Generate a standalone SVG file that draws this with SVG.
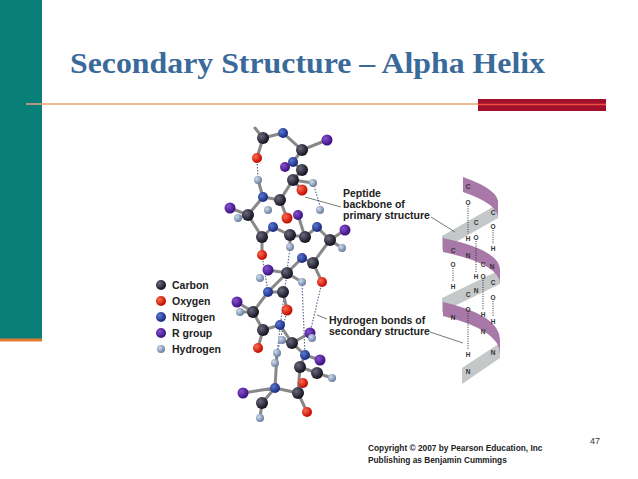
<svg xmlns="http://www.w3.org/2000/svg" width="638" height="479" viewBox="0 0 638 479">
<defs>
<radialGradient id="gC" cx="35%" cy="35%" r="65%"><stop offset="0" stop-color="#6a6a80"/><stop offset="1" stop-color="#15131f"/></radialGradient>
<radialGradient id="gO" cx="35%" cy="35%" r="65%"><stop offset="0" stop-color="#ff6a50"/><stop offset="1" stop-color="#c00a00"/></radialGradient>
<radialGradient id="gN" cx="35%" cy="35%" r="65%"><stop offset="0" stop-color="#5a78d0"/><stop offset="1" stop-color="#1a2a80"/></radialGradient>
<radialGradient id="gR" cx="35%" cy="35%" r="65%"><stop offset="0" stop-color="#8a50d0"/><stop offset="1" stop-color="#3a1080"/></radialGradient>
<radialGradient id="gH" cx="35%" cy="35%" r="65%"><stop offset="0" stop-color="#d0dcee"/><stop offset="1" stop-color="#6a80a0"/></radialGradient>
<style>
.C{fill:url(#gC)}.O{fill:url(#gO)}.N{fill:url(#gN)}.R{fill:url(#gR)}.H{fill:url(#gH)}
.b{stroke:#888;stroke-width:3;fill:none;stroke-linecap:round}
.hb{stroke:#5a7090;stroke-width:1.2;stroke-dasharray:1.5 1.5;fill:none}
.lbl{font-family:"Liberation Sans",Arial,sans-serif;font-weight:bold;font-size:10.5px;fill:#222}
.lg{font-family:"Liberation Sans",Arial,sans-serif;font-weight:bold;font-size:10.5px;fill:#222}
.ld{stroke:#555;stroke-width:0.8;fill:none}
.hx{font-family:"Liberation Sans",Arial,sans-serif;font-weight:bold;font-size:6.5px;fill:#333;text-anchor:middle}
.hd{stroke:#333;stroke-width:1;stroke-dasharray:1 1.3}
.pu{fill:#a878a8}.gr{fill:#c4c8c8}
</style>
</defs>
<rect width="638" height="479" fill="#fff"/>
<rect x="0" y="0" width="42" height="340" fill="#0a7f7a"/>
<rect x="0" y="338.5" width="42" height="3" fill="#e07a30"/>
<line x1="26" y1="104" x2="478" y2="104" stroke="#e8a070" stroke-width="1.5"/>
<rect x="478" y="99" width="128" height="12" fill="#a0102a"/>
<line x1="478" y1="104.5" x2="606" y2="104.5" stroke="#f05040" stroke-width="1.5"/>
<text x="70" y="73" font-family="Liberation Serif,Times New Roman,serif" font-weight="bold" font-size="30" fill="#3a6a9a" textLength="475" lengthAdjust="spacingAndGlyphs">Secondary Structure – Alpha Helix</text>

<g id="connectors">
<path class="b" d="M255,128 L263,138 L283,133 L302,150 L327,140 M263,138 L257,158 M302,150 L293,162 L302,170 L293,180 L280,200 L263,197 L258,180 M293,180 L302,190 M293,180 L313,183 M263,197 L248,215 L230,208 M248,215 L238,218 M248,215 L262,237 L262,255 M262,237 L273,227 L290,235 L305,237 L317,227 L330,240 L345,230 M330,240 L342,248 M330,240 L313,263 L322,282 M290,235 L290,247 M280,200 L287,218 M305,237 L298,215 M313,263 L302,258 L287,273 L268,270 M287,273 L302,282 M287,273 L268,292 L283,292 L287,310 M268,292 L253,312 L237,302 M253,312 L240,312 M253,312 L263,330 L258,348 M263,330 L280,325 L292,343 L282,340 M292,343 L310,333 M292,343 L305,355 L300,367 L317,373 L332,378 M305,355 L320,360 M300,367 L298,393 L303,383 M298,393 L307,412 M298,393 L275,388 L262,403 L260,418 M275,388 L243,393 M277,353 L275,388"/>
<path class="hb" d="M257,158 L258,180 M313,183 L322,212 M262,255 L268,292 M322,282 L310,333 M290,247 L277,353 M302,282 L305,355 M287,310 L275,363"/>
</g>
<g id="molecule">
<circle class="C" cx="263" cy="138" r="6"/><circle class="N" cx="283" cy="133" r="5"/><circle class="R" cx="327" cy="140" r="5.5"/>
<circle class="C" cx="302" cy="150" r="6"/><circle class="O" cx="257" cy="158" r="5"/><circle class="N" cx="293" cy="162" r="5"/>
<circle class="R" cx="285" cy="167" r="5"/><circle class="C" cx="302" cy="170" r="6"/><circle class="C" cx="293" cy="180" r="6"/>
<circle class="O" cx="302" cy="190" r="5.5"/><circle class="H" cx="313" cy="183" r="4"/><circle class="H" cx="258" cy="180" r="4"/>
<circle class="N" cx="263" cy="197" r="5"/><circle class="C" cx="280" cy="200" r="6"/><circle class="H" cx="320" cy="210" r="4"/>
<circle class="R" cx="230" cy="208" r="5.5"/><circle class="C" cx="248" cy="215" r="6"/><circle class="H" cx="238" cy="218" r="4"/>
<circle class="H" cx="268" cy="210" r="4"/><circle class="O" cx="287" cy="218" r="5.5"/><circle class="R" cx="298" cy="215" r="5"/>
<circle class="N" cx="273" cy="227" r="5"/><circle class="N" cx="317" cy="227" r="5"/><circle class="C" cx="290" cy="235" r="6"/>
<circle class="C" cx="305" cy="237" r="6"/><circle class="R" cx="345" cy="230" r="5.5"/><circle class="C" cx="330" cy="240" r="6"/>
<circle class="C" cx="262" cy="237" r="6"/><circle class="H" cx="290" cy="247" r="4"/><circle class="H" cx="342" cy="248" r="4"/>
<circle class="O" cx="262" cy="255" r="5"/><circle class="N" cx="302" cy="258" r="5"/><circle class="C" cx="313" cy="263" r="6"/>
<circle class="R" cx="268" cy="270" r="5.5"/><circle class="C" cx="287" cy="273" r="6"/><circle class="H" cx="302" cy="282" r="4"/>
<circle class="H" cx="260" cy="278" r="4"/><circle class="O" cx="322" cy="282" r="5"/><circle class="N" cx="268" cy="292" r="5"/>
<circle class="C" cx="283" cy="292" r="6"/><circle class="R" cx="237" cy="302" r="5.5"/><circle class="H" cx="240" cy="312" r="4"/>
<circle class="C" cx="253" cy="312" r="6"/><circle class="O" cx="287" cy="310" r="5.5"/><circle class="N" cx="280" cy="325" r="5"/>
<circle class="C" cx="263" cy="330" r="6"/><circle class="H" cx="282" cy="340" r="4"/><circle class="C" cx="292" cy="343" r="6"/>
<circle class="O" cx="258" cy="348" r="5"/><circle class="R" cx="310" cy="333" r="5.5"/><circle class="H" cx="312" cy="338" r="4"/>
<circle class="N" cx="305" cy="355" r="5"/><circle class="R" cx="320" cy="360" r="5.5"/><circle class="C" cx="300" cy="367" r="6"/>
<circle class="C" cx="317" cy="373" r="6"/><circle class="H" cx="332" cy="378" r="4"/><circle class="H" cx="277" cy="353" r="4"/>
<circle class="N" cx="275" cy="388" r="5"/><circle class="R" cx="243" cy="393" r="5.5"/><circle class="C" cx="298" cy="393" r="6"/>
<circle class="O" cx="303" cy="383" r="5"/><circle class="C" cx="262" cy="403" r="6"/><circle class="H" cx="260" cy="418" r="4"/>
<circle class="O" cx="307" cy="412" r="5"/><circle class="H" cx="275" cy="363" r="4"/>
</g>

<g id="legend">
<circle class="C" cx="161" cy="285" r="5"/><text class="lg" x="172" y="289">Carbon</text>
<circle class="O" cx="161" cy="301" r="5"/><text class="lg" x="172" y="305">Oxygen</text>
<circle class="N" cx="161" cy="317" r="5"/><text class="lg" x="172" y="321">Nitrogen</text>
<circle class="R" cx="161" cy="333" r="5"/><text class="lg" x="172" y="337">R group</text>
<circle class="H" cx="161" cy="349" r="4"/><text class="lg" x="172" y="353">Hydrogen</text>
</g>

<g id="helix">
<path class="gr" d="M498,204 L442,236 L442,250 L498,218 Z"/>
<path class="gr" d="M500,270 L442,298 L442,312 L500,284 Z"/>
<path class="gr" d="M500,343 L462,368 L462,384 L500,358 Z"/>
<path class="pu" d="M463,177 Q500,190 498,204 L498,218 Q498,204 463,192 Z"/>
<path class="pu" d="M443,238 Q500,250 500,270 L500,284 Q500,264 443,252 Z"/>
<path class="pu" d="M443,302 Q500,315 500,340 L500,354 Q500,330 443,316 Z"/>
<g class="hd">
<line x1="468" y1="206" x2="468" y2="234"/><line x1="493" y1="230" x2="493" y2="244"/>
<line x1="476" y1="241" x2="476" y2="272"/><line x1="453" y1="268" x2="453" y2="282"/>
<line x1="483" y1="280" x2="483" y2="310"/><line x1="493" y1="301" x2="493" y2="317"/>
<line x1="468" y1="313" x2="468" y2="350"/>
</g>
<text class="hx" x="468" y="189">C</text><text class="hx" x="468" y="205">O</text>
<text class="hx" x="493" y="215">C</text><text class="hx" x="493" y="229">O</text><text class="hx" x="493" y="251">H</text>
<text class="hx" x="476" y="225">C</text><text class="hx" x="476" y="240">O</text><text class="hx" x="468" y="241">H</text>
<text class="hx" x="468" y="258">N</text><text class="hx" x="453" y="253">C</text><text class="hx" x="453" y="267">O</text>
<text class="hx" x="453" y="289">H</text><text class="hx" x="492" y="269">N</text><text class="hx" x="483" y="267">C</text>
<text class="hx" x="483" y="279">O</text><text class="hx" x="476" y="279">H</text><text class="hx" x="476" y="293">N</text>
<text class="hx" x="493" y="285">C</text><text class="hx" x="493" y="300">O</text><text class="hx" x="493" y="324">H</text>
<text class="hx" x="468" y="297">C</text><text class="hx" x="468" y="312">O</text><text class="hx" x="453" y="320">N</text>
<text class="hx" x="483" y="317">H</text><text class="hx" x="483" y="334">N</text><text class="hx" x="468" y="357">H</text>
<text class="hx" x="468" y="374">N</text><text class="hx" x="493" y="355">N</text>
</g>

<g id="labels">
<text class="lbl" x="343" y="197">Peptide</text>
<text class="lbl" x="343" y="208">backbone of</text>
<text class="lbl" x="343" y="219">primary structure</text>
<path class="ld" d="M341,207 L305,197 M431,217 L455,232"/>
<text class="lbl" x="329" y="324">Hydrogen bonds of</text>
<text class="lbl" x="329" y="335">secondary structure</text>
<path class="ld" d="M327,319 L317,315 M430,332 L463,343"/>
</g>
<text x="368" y="451" font-family="Liberation Sans,Arial,sans-serif" font-weight="bold" font-size="8.3" fill="#222">Copyright © 2007 by Pearson Education, Inc</text>
<text x="368" y="463" font-family="Liberation Sans,Arial,sans-serif" font-weight="bold" font-size="8.3" fill="#222">Publishing as Benjamin Cummings</text>
<text x="590" y="444" font-family="Liberation Sans,Arial,sans-serif" font-size="9" fill="#333">47</text>
</svg>
